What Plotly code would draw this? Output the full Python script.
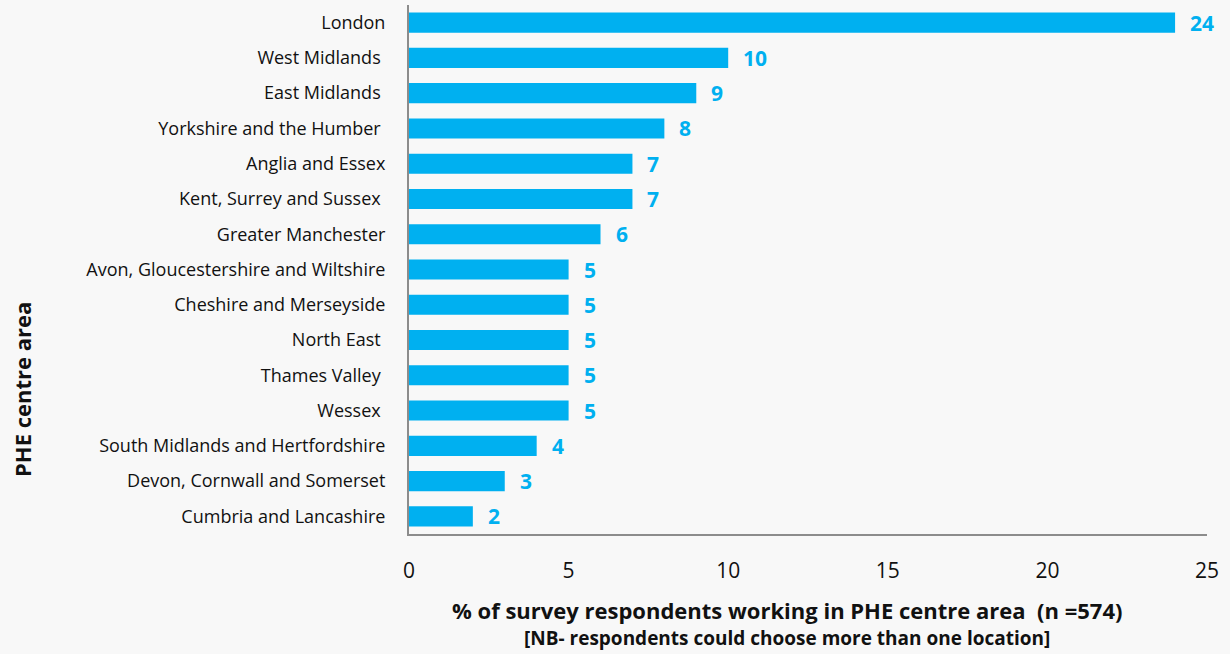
import plotly.graph_objects as go

# PHE centre areas, top to bottom
areas = [
    "London",
    "West Midlands\u00a0",
    "East Midlands\u00a0",
    "Yorkshire and the Humber\u00a0",
    "Anglia and Essex",
    "Kent, Surrey and Sussex\u00a0",
    "Greater Manchester",
    "Avon, Gloucestershire and Wiltshire",
    "Cheshire and Merseyside",
    "North East\u00a0",
    "Thames Valley\u00a0",
    "Wessex\u00a0",
    "South Midlands and Hertfordshire",
    "Devon, Cornwall and Somerset",
    "Cumbria and Lancashire",
]
# % of respondents working in each area
percent = [24, 10, 9, 8, 7, 7, 6, 5, 5, 5, 5, 5, 4, 3, 2]

x_ticks = [0, 5, 10, 15, 20, 25]

BLUE = "#00B0F0"
INK = "#111111"
FONT = "'Open Sans', sans-serif"

# plot area in pixels
L, R, T, B = 409, 1207, 5, 534


def px_x(px):
    return (px - L) / (R - L)


def px_y(py):
    return (B - py) / (B - T)


fig = go.Figure()
fig.add_trace(go.Bar(
    x=percent,
    y=areas,
    orientation="h",
    marker=dict(color=BLUE, line=dict(width=0)),
    hoverinfo="x+y",
))

# value labels to the right of each bar
for a, v in zip(areas, percent):
    fig.add_annotation(
        x=v, y=a, xref="x", yref="y",
        text=f"<b>{v}</b>", showarrow=False,
        xanchor="left", yanchor="middle", xshift=13,
        font=dict(family=FONT, size=21, color=BLUE),
    )

fig.update_layout(
    width=1230, height=654,
    margin=dict(l=L, r=1230 - R, t=T, b=654 - B),
    paper_bgcolor="#F8F8F8",
    plot_bgcolor="#F8F8F8",
    bargap=0.43,
    showlegend=False,
    font=dict(family=FONT, size=18, color=INK),
)

fig.update_xaxes(
    range=[0, 25],
    tickvals=x_ticks,
    ticks="",
    showgrid=False,
    zeroline=False,
    showline=True,
    linecolor="#8C8C8C",
    linewidth=2,
    tickfont=dict(size=21, color=INK),
    ticklabelstandoff=17,
)
fig.update_yaxes(
    autorange="reversed",
    ticks="",
    showgrid=False,
    showline=True,
    linecolor="#8C8C8C",
    linewidth=2,
    tickfont=dict(size=18, color=INK),
    ticklabelstandoff=18,
)

# axis titles
fig.add_annotation(
    x=px_x(787), y=px_y(610), xref="paper", yref="paper",
    text="<b>% of survey respondents working in PHE centre area  (n =574)</b>",
    showarrow=False, xanchor="center", yanchor="middle",
    font=dict(family=FONT, size=22, color=INK),
)
fig.add_annotation(
    x=px_x(787), y=px_y(638), xref="paper", yref="paper",
    text="<b>[NB- respondents could choose more than one location]</b>",
    showarrow=False, xanchor="center", yanchor="middle",
    font=dict(family=FONT, size=19, color=INK),
)
fig.add_annotation(
    x=px_x(22), y=px_y(390), xref="paper", yref="paper",
    text="<b>PHE centre area</b>", textangle=-90,
    showarrow=False, xanchor="center", yanchor="middle",
    font=dict(family=FONT, size=22, color=INK),
)

fig.write_html("out.html")
